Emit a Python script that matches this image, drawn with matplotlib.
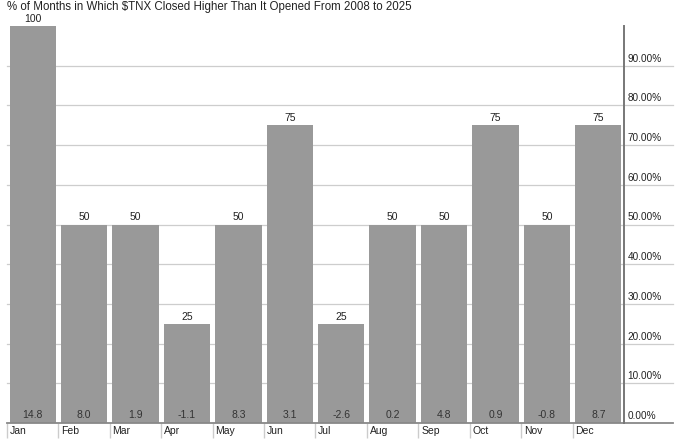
import matplotlib.pyplot as plt
import numpy as np

plt.rcParams['font.family'] = ['Liberation Sans', 'DejaVu Sans']

months = ['Jan', 'Feb', 'Mar', 'Apr', 'May', 'Jun', 'Jul', 'Aug', 'Sep', 'Oct', 'Nov', 'Dec']
pct_higher = [100, 50, 50, 25, 50, 75, 25, 50, 50, 75, 50, 75]
avg_change = [14.8, 8.0, 1.9, -1.1, 8.3, 3.1, -2.6, 0.2, 4.8, 0.9, -0.8, 8.7]
grid_levels = [0, 10, 20, 30, 40, 50, 60, 70, 80, 90]

fig = plt.figure(figsize=(6.8, 4.45), dpi=100)
ax = fig.add_axes([7 / 680, 22 / 445, 617 / 680, 397 / 445])

x = np.arange(len(months))
ax.bar(x, pct_higher, width=0.9, color='#999999', zorder=2)
ax.set_xlim(-0.5, len(months) - 0.5)
ax.set_ylim(0, 100)
ax.set_yticks([])

# gridlines run past the right axis, under the labels
ext = 1 + 49 / 617
for v in grid_levels:
    if v == 0:
        ax.axhline(v, xmin=0, xmax=ext, color='#888888', linewidth=1.3, zorder=3, clip_on=False)
    else:
        ax.axhline(v, xmin=0, xmax=ext, color='#cdcdcd', linewidth=0.9, zorder=0, clip_on=False)
    ax.annotate(f'{v:.2f}%', xy=(1, v), xycoords=('axes fraction', 'data'),
                xytext=(2.5, 1.5), textcoords='offset points', va='bottom', ha='left',
                fontsize=7.2, color='#222222')

# category boundary ticks and month labels
ax.set_xticks(np.arange(-0.5, len(months) - 0.5, 1))
ax.xaxis.set_tick_params(length=11, color='#cccccc', width=1, labelbottom=False)
for i, m in enumerate(months):
    ax.annotate(m, xy=(i - 0.5, 0), xycoords=('data', 'axes fraction'),
                xytext=(2, -6), textcoords='offset points', va='center', ha='left',
                fontsize=7.5, color='#222222')

# bar labels
for i in range(len(months)):
    ax.annotate(str(pct_higher[i]), xy=(i, pct_higher[i]), xytext=(0, 1.5),
                textcoords='offset points', ha='center', va='bottom',
                fontsize=7.5, color='#222222')
    ax.annotate(f'{avg_change[i]:.1f}', xy=(i, 0), xytext=(0, 2),
                textcoords='offset points', ha='center', va='bottom',
                fontsize=7.5, color='#333333')

for s in ['left', 'top', 'bottom']:
    ax.spines[s].set_visible(False)
ax.spines['right'].set_color('#777777')
ax.spines['right'].set_linewidth(1.4)
ax.spines['right'].set_zorder(4)

fig.text(7 / 680, 1 - 7 / 445, '% of Months in Which \\$TNX Closed Higher Than It Opened From 2008 to 2025',
         ha='left', va='center', fontsize=8.3, color='#222222')

fig.savefig('out.png', dpi=100)
